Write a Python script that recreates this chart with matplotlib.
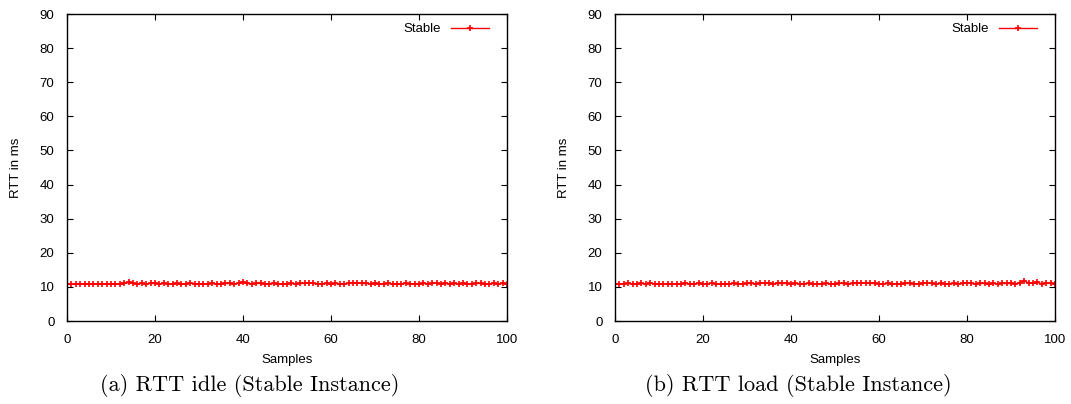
"""RTT of the stable instance, idle vs load, gnuplot-like look."""
import matplotlib

matplotlib.use("Agg")
import matplotlib.pyplot as plt
import numpy as np

samples = list(range(101))

# RTT in ms
rtt_idle = [
    10.8, 10.9, 10.8, 10.9, 10.8, 10.8, 10.9, 10.8, 10.9, 10.9,
    10.8, 10.9, 10.9, 11.0, 11.3, 11.0, 10.9, 11.0, 10.9, 11.0,
    11.0, 10.9, 11.0, 10.9, 10.9, 11.0, 10.8, 10.9, 11.1, 10.9,
    10.8, 10.9, 10.9, 11.0, 10.9, 10.9, 11.0, 11.0, 10.9, 11.0,
    11.3, 11.0, 10.9, 11.0, 11.0, 10.9, 10.9, 11.0, 10.8, 10.9,
    10.9, 11.0, 10.9, 11.0, 11.0, 11.2, 11.0, 10.9, 10.9, 11.0,
    10.9, 11.0, 10.8, 10.9, 11.0, 11.1, 11.2, 11.0, 11.0, 10.9,
    11.0, 10.9, 10.9, 11.0, 10.9, 10.9, 10.9, 11.0, 10.9, 10.9,
    10.9, 11.0, 10.9, 11.0, 11.1, 10.9, 11.0, 10.9, 11.0, 10.8,
    11.0, 10.9, 10.9, 11.0, 11.0, 10.9, 10.9, 11.0, 10.9, 11.0,
    10.8,
]
rtt_load = [
    10.8, 10.9, 10.9, 11.0, 10.9, 10.9, 11.0, 10.9, 11.1, 10.9,
    10.8, 10.9, 10.8, 10.9, 10.9, 10.9, 11.0, 10.9, 10.9, 11.0,
    10.9, 10.9, 11.1, 10.9, 10.8, 10.9, 10.9, 11.0, 10.9, 10.9,
    11.0, 11.0, 10.9, 11.1, 11.0, 11.0, 10.9, 11.0, 11.0, 11.0,
    10.9, 11.0, 10.9, 10.9, 11.0, 10.9, 10.9, 10.9, 11.0, 10.9,
    10.9, 11.0, 11.0, 10.9, 11.0, 11.0, 11.1, 11.2, 11.0, 11.0,
    10.9, 10.9, 11.0, 10.9, 10.9, 10.9, 11.0, 11.0, 10.9, 10.9,
    11.0, 11.1, 11.0, 10.9, 11.0, 10.9, 10.9, 11.0, 10.9, 11.0,
    11.1, 11.0, 10.9, 11.0, 11.0, 10.9, 11.0, 10.9, 11.0, 11.0,
    11.0, 10.9, 11.2, 11.7, 11.2, 11.0, 11.3, 10.9, 11.1, 11.0,
    10.9,
]
captions = ["(a) RTT idle (Stable Instance)", "(b) RTT load (Stable Instance)"]

plt.rcParams["font.family"] = ["Liberation Sans", "DejaVu Sans"]
plt.rcParams["font.size"] = 9.5

fig = plt.figure(figsize=(10.71, 4.04), dpi=100)
lefts = [0.0626, 0.5742]
caption_x = [0.2334, 0.7451]  # captions are centred on the subfigure, not the axes
width = 0.4108
bottom, top = 0.2054, 0.9653

for left, cx, series, caption in zip(lefts, caption_x, [rtt_idle, rtt_load], captions):
    ax = fig.add_axes([left, bottom, width, top - bottom])
    ax.plot(samples, series, color="red", linewidth=1.0, marker="+",
            markersize=4, markeredgewidth=1.2, label="Stable")
    ax.set_xlim(0, 100)
    ax.set_ylim(0, 90)
    ax.set_xticks(np.arange(0, 101, 20))
    ax.set_yticks(np.arange(0, 91, 10))
    ax.tick_params(direction="in", top=True, right=True, length=4,
                   width=0.8)
    ax.tick_params(axis="x", pad=9)
    ax.tick_params(axis="y", pad=9)
    for sp in ax.spines.values():
        sp.set_linewidth(1.0)
    ax.set_xlabel("Samples", labelpad=6)
    ax.set_ylabel("RTT in ms", labelpad=13)
    ax.legend(loc="upper right", bbox_to_anchor=(0.98, 1.0), frameon=False,
              markerfirst=False, handlelength=2.9, borderaxespad=0.3,
              handletextpad=0.75)
    fig.text(cx, 0.047, caption, ha="center", va="center",
             fontsize=16, family=["cmr10", "DejaVu Serif"])

fig.savefig("out.png", dpi=100)
